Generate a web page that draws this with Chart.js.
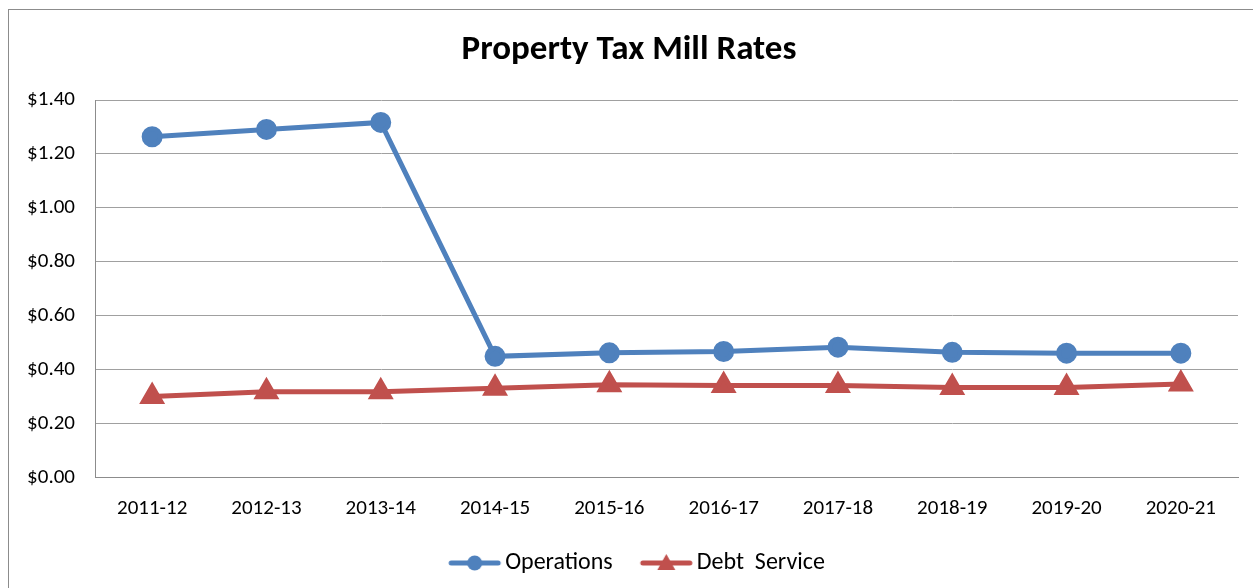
<!DOCTYPE html>
<html>
<head>
<meta charset="utf-8">
<script src="https://cdn.jsdelivr.net/npm/chart.js@4"></script>
<style>
  html, body { margin: 0; padding: 0; background: #fff; }
  #wrap { position: relative; width: 1253px; height: 588px; overflow: hidden; }
  #frame { position: absolute; left: 8px; top: 9px; width: 1250px; height: 600px; border: 1px solid #8c8c8c; box-sizing: border-box; }
  canvas { position: absolute; left: 0; top: 0; }
</style>
</head>
<body>
<div id="wrap">
  <div id="frame"></div>
  <canvas id="chart" width="1253" height="588"></canvas>
</div>
<script>
const years = ['2011-12', '2012-13', '2013-14', '2014-15', '2015-16', '2016-17', '2017-18', '2018-19', '2019-20', '2020-21'];
const operations = [1.264, 1.291, 1.317, 0.450, 0.463, 0.468, 0.484, 0.465, 0.462, 0.462];
const debtService = [0.301, 0.319, 0.319, 0.332, 0.345, 0.342, 0.342, 0.335, 0.335, 0.348];

const BLUE = '#4f81bd';
const RED = '#c0504d';
const FONT = "Carlito, Calibri, Lato, 'Liberation Sans', sans-serif";

// legend swatch: short line with the marker in the middle (left margin left transparent)
function swatch(color, shape) {
    const c = document.createElement('canvas');
    c.width = 80; c.height = 20;
    const g = c.getContext('2d');
    g.strokeStyle = color; g.fillStyle = color;
    g.lineWidth = 5; g.lineCap = 'round';
    g.beginPath(); g.moveTo(28, 10); g.lineTo(75, 10); g.stroke();
    g.beginPath();
    if (shape === 'circle') {
        g.arc(51.5, 10, 7.5, 0, Math.PI * 2);
    } else {
        g.moveTo(51.5, 1); g.lineTo(60.5, 17); g.lineTo(42.5, 17); g.closePath();
    }
    g.fill();
    return c;
}

const ctx = document.getElementById('chart').getContext('2d');
new Chart(ctx, {
    type: 'line',
    data: {
        labels: years,
        datasets: [
            {
                label: 'Operations',
                data: operations,
                borderColor: BLUE,
                backgroundColor: BLUE,
                borderWidth: 5,
                pointStyle: 'circle',
                pointRadius: 8,
                pointHoverRadius: 8,
                tension: 0,
            },
            {
                label: 'Debt  Service',
                data: debtService,
                borderColor: RED,
                backgroundColor: RED,
                borderWidth: 5,
                pointStyle: 'triangle',
                pointRadius: 10,
                pointHoverRadius: 10,
                tension: 0,
            },
        ],
    },
    options: {
        responsive: false,
        animation: false,
        layout: { padding: { top: 29, left: 20, right: 15, bottom: 3 } },
        plugins: {
            title: {
                display: true,
                text: 'Property Tax Mill Rates',
                color: '#000',
                font: { family: FONT, size: 35, weight: 'bold' },
                padding: { top: 0, bottom: 29 },
            },
            legend: {
                position: 'bottom',
                labels: {
                    color: '#000',
                    font: { family: FONT, size: 24 },
                    usePointStyle: true,
                    pointStyleWidth: 60,
                    padding: 12,
                    generateLabels: (chart) => [
                        { text: 'Operations', pointStyle: swatch(BLUE, 'circle'), fillStyle: BLUE, strokeStyle: BLUE, lineWidth: 0, datasetIndex: 0, fontColor: '#000' },
                        { text: 'Debt  Service', pointStyle: swatch(RED, 'triangle'), fillStyle: RED, strokeStyle: RED, lineWidth: 0, datasetIndex: 1, fontColor: '#000' },
                    ],
                },
            },
            tooltip: { enabled: false },
        },
        scales: {
            x: {
                offset: true,
                grid: { display: false, drawTicks: false },
                border: { color: '#8c8c8c', width: 1 },
                ticks: { color: '#000', font: { family: FONT, size: 21 }, padding: 18, maxRotation: 0 },
            },
            y: {
                min: 0,
                max: 1.4,
                grid: { color: '#a0a0a0', lineWidth: 1, drawTicks: false },
                border: { color: '#8c8c8c', width: 1 },
                ticks: {
                    stepSize: 0.2,
                    color: '#000',
                    font: { family: FONT, size: 21 },
                    padding: 20,
                    callback: (v) => '$' + Number(v).toFixed(2),
                },
                afterFit: (scale) => { scale.width = 75; },
            },
        },
    },
});
</script>
</body>
</html>
